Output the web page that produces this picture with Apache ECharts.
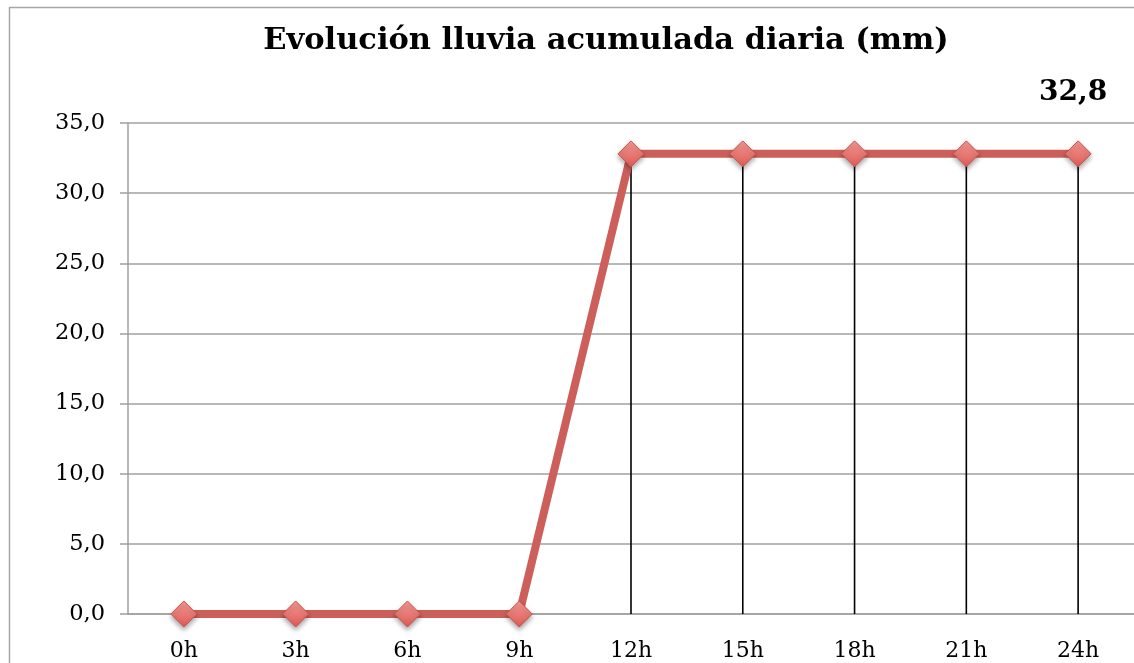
<!DOCTYPE html>
<html>
<head>
<meta charset="utf-8">
<script src="https://cdn.jsdelivr.net/npm/echarts@6/dist/echarts.min.js"></script>
<style>
  html, body { margin: 0; padding: 0; background: #fff; overflow: hidden; }
  #chart { position: absolute; left: 0; top: 0; width: 1134px; height: 663px; }
</style>
</head>
<body>
<div id="chart"></div>
<script>
// --- datos ---
const horas = ['0h', '3h', '6h', '9h', '12h', '15h', '18h', '21h', '24h'];
const lluviaAcumulada = [0, 0, 0, 0, 32.8, 32.8, 32.8, 32.8, 32.8];
const titulo = 'Evolución lluvia acumulada diaria (mm)';

const fmt = v => v.toFixed(1).replace('.', ',');
const ultimo = lluviaAcumulada.length - 1;
const fuente = '"DejaVu Serif", "Liberation Serif", serif';

const chart = echarts.init(document.getElementById('chart'));

const option = {
  animation: false,
  textStyle: { fontFamily: fuente },
  title: {
    text: titulo,
    left: 601, top: 21, textAlign: 'center',
    textStyle: { fontFamily: fuente, fontWeight: 'bold', fontSize: 30.5, color: '#000' }
  },
  // marco exterior (sale del lienzo por la derecha y abajo)
  graphic: [{
    type: 'rect',
    silent: true,
    shape: { x: 9.5, y: 7.5, width: 2000, height: 2000 },
    style: { fill: 'none', stroke: '#a6a6a6', lineWidth: 1.5 }
  }],
  grid: { left: 128, right: -1, top: 123, bottom: 49, containLabel: false },
  xAxis: {
    type: 'category',
    data: horas,
    boundaryGap: true,
    axisLine: { lineStyle: { color: '#a0a0a0', width: 1.5 } },
    axisTick: { show: false },
    axisLabel: { color: '#000', fontSize: 22, margin: 26, fontFamily: fuente }
  },
  yAxis: {
    type: 'value',
    min: 0, max: 35, interval: 5,
    axisLine: { show: true, lineStyle: { color: '#a0a0a0', width: 1.5 } },
    axisTick: { show: true, length: 8, lineStyle: { color: '#a0a0a0', width: 1.5 } },
    axisLabel: { color: '#000', fontSize: 22.5, margin: 23, formatter: fmt, fontFamily: fuente },
    splitLine: { lineStyle: { color: '#a0a0a0', width: 1.5 } }
  },
  series: [
    {
      // líneas de caída verticales
      type: 'bar',
      data: lluviaAcumulada,
      barWidth: 1.6,
      barGap: '-100%',
      itemStyle: { color: '#000' },
      silent: true,
      z: 1
    },
    {
      type: 'line',
      data: lluviaAcumulada,
      symbol: 'diamond',
      symbolSize: 26,
      lineStyle: { color: '#cd5f5b', width: 8 },
      itemStyle: {
        color: new echarts.graphic.LinearGradient(0, 0, 0, 1, [
          { offset: 0, color: '#f59a95' },
          { offset: 1, color: '#dd5a54' }
        ]),
        borderColor: '#c9534e',
        borderWidth: 1,
        shadowColor: 'rgba(0,0,0,0.35)',
        shadowBlur: 5,
        shadowOffsetY: 3
      },
      label: {
        show: true,
        position: 'top',
        distance: 34,
        offset: [-5, 0],
        fontSize: 28,
        fontWeight: 'bold',
        color: '#000',
        fontFamily: fuente,
        formatter: p => (p.dataIndex === ultimo ? fmt(p.value) : '')
      },
      z: 3
    }
  ]
};

chart.setOption(option);
</script>
</body>
</html>
